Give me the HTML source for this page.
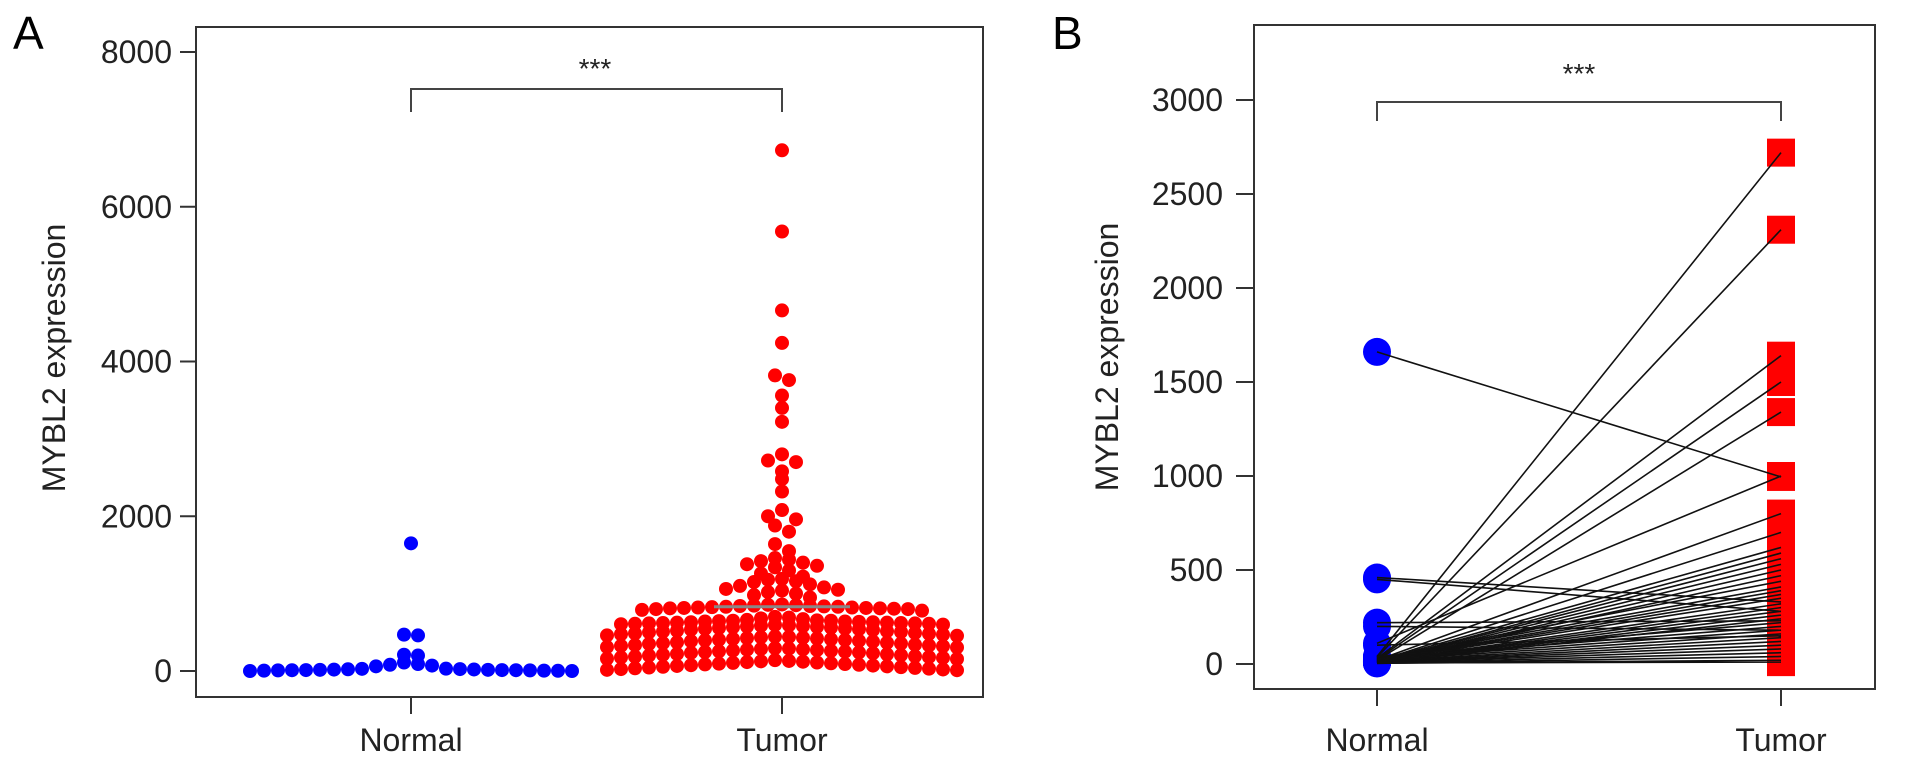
<!DOCTYPE html>
<html><head><meta charset="utf-8"><style>
html,body{margin:0;padding:0;background:#fff;}
svg{display:block;font-family:"Liberation Sans",Arial,sans-serif;}
</style></head><body>
<svg id="fig" width="1913" height="761" viewBox="0 0 1913 761">
<g id="pa"></g>
<g id="pb"></g>
</svg>
<script>
// ---- Panel A data ----
const aCategories = ["Normal","Tumor"];
const aTicks = [0,2000,4000,6000,8000];
const aNormal = [0,5,8,10,12,15,18,20,22,25,28,30,10,5,8,12,15,0,3,60,70,80,110,90,200,210,460,470,1650];
const aTumor = [
10,20,30,40,50,60,70,80,90,100,110,120,130,140,15,25,35,45,55,65,75,85,95,105,115,125,
155,160,170,175,185,190,200,205,215,220,230,235,245,250,255,260,265,270,275,280,285,290,295,180,210,240,
305,310,320,325,335,340,350,355,365,370,380,385,395,400,405,410,415,420,425,430,435,440,445,330,360,390,
455,460,470,475,485,490,500,505,515,520,530,535,545,550,555,560,565,570,575,580,585,590,595,480,510,540,
600,605,610,615,620,625,630,635,640,645,650,655,610,615,620,625,630,640,650,660,670,680,690,700,
780,790,800,810,815,820,825,830,835,840,845,850,855,800,805,810,815,820,830,840,860,
950,980,1000,1020,1040,1050,
1060,1080,1100,1120,1150,1160,1180,1190,
1220,1260,1300,1340,
1360,1380,1400,1420,1440,1460,
1550,1640,1800,1880,1960,2000,2080,2320,2480,2580,2700,2720,2800,3220,3400,3560,3760,3820,4240,4660,5680,6730];
const aTumorMean = 830;
// ---- Panel B data ----
const bCategories = ["Normal","Tumor"];
const bTicks = [0,500,1000,1500,2000,2500,3000];
const bNormal = [1660,460,450,220,200,110,100,40,35,30,25,20,20,15,15,10,10,8,5,5,30,25,20,18,15,12,10,8,6,5,40,30,25,20,15,12,10,8,5,3,4,6];
const bTumor  = [995,330,280,230,180,1000,150,2720,2310,1640,1500,1340,800,700,620,590,560,530,500,470,440,410,390,370,350,320,300,280,260,240,220,200,180,160,140,120,100,80,60,40,20,10];

const NS="http://www.w3.org/2000/svg";
function mk(parent,tag,attrs,text){const e=document.createElementNS(NS,tag);for(const k in attrs)e.setAttribute(k,attrs[k]);if(text!==undefined)e.textContent=text;parent.appendChild(e);return e;}

// ===== Panel A =====
(function(){
const g=document.getElementById('pa');
const L=196,T=27,R=983,B=697;
const y=v=>671-(v/8000)*(671-52);
const xc=[411,782];
let e;
e=mk(g,'text',{x:13,y:49,'font-size':46});e.textContent='A';


e=mk(g,'rect',{x:L,y:T,width:R-L,height:B-T,fill:'none',stroke:'#333','stroke-width':2});


aTicks.forEach(t=>{
 e=mk(g,'line',{x1:180,x2:L,y1:y(t),y2:y(t),stroke:'#333','stroke-width':2});
 
 
 e=mk(g,'text',{x:172,y:y(t)+11,'text-anchor':'end','font-size':32,fill:'#222'},String(t));
 
 
});
aCategories.forEach((c,i)=>{
 e=mk(g,'line',{x1:xc[i],x2:xc[i],y1:B,y2:714,stroke:'#333','stroke-width':2});
 
 
 e=mk(g,'text',{x:xc[i],y:751,'text-anchor':'middle','font-size':32,fill:'#222'},c);
 
 
});
e=mk(g,'text',{x:0,y:0,'text-anchor':'middle','font-size':32,fill:'#222',transform:'translate(65,358) rotate(-90)'},'MYBL2 expression');


e=mk(g,'path',{d:`M${xc[0]},112 V89 H${xc[1]} V112`,fill:'none',stroke:'#444','stroke-width':2});


e=mk(g,'text',{x:595,y:78,'text-anchor':'middle','font-size':28,fill:'#222'},'***');


function swarm(vals,cx,color,name,bin){
 const groups={};
 vals.forEach(v=>{const k=Math.floor(v/bin);(groups[k]=groups[k]||[]).push(v);});
 Object.keys(groups).forEach(k=>{
  const arr=groups[k].slice().sort((a,b)=>b-a);
  const n=arr.length;
  // order positions from center outwards
  const pos=[];for(let j=0;j<n;j++)pos.push((j-(n-1)/2)*14);
  pos.sort((a,b)=>Math.abs(a)-Math.abs(b));
  arr.forEach((v,j)=>{
   const c=mk(g,'circle',{cx:cx+pos[j],cy:y(v),r:7,fill:color});
   
   
  });
 });
}
swarm(aNormal,xc[0],'#0000ff','normal-point',150);
swarm(aTumor,xc[1],'#ff0000','tumor-point',150);
e=mk(g,'line',{x1:xc[1]-68,x2:xc[1]+68,y1:y(aTumorMean),y2:y(aTumorMean),stroke:'#888','stroke-width':3});


})();

// ===== Panel B =====
(function(){
const g=document.getElementById('pb');
const L=1254,T=25,R=1875,B=689;
const y=v=>664-(v/3000)*(664-100);
const xc=[1377,1781];
let e;
e=mk(g,'text',{x:1052,y:49,'font-size':46});e.textContent='B';


e=mk(g,'rect',{x:L,y:T,width:R-L,height:B-T,fill:'none',stroke:'#333','stroke-width':2});


bTicks.forEach(t=>{
 e=mk(g,'line',{x1:1236,x2:L,y1:y(t),y2:y(t),stroke:'#333','stroke-width':2});
 
 
 e=mk(g,'text',{x:1223,y:y(t)+11,'text-anchor':'end','font-size':32,fill:'#222'},String(t));
 
 
});
bCategories.forEach((c,i)=>{
 e=mk(g,'line',{x1:xc[i],x2:xc[i],y1:B,y2:706,stroke:'#333','stroke-width':2});
 
 
 e=mk(g,'text',{x:xc[i],y:751,'text-anchor':'middle','font-size':32,fill:'#222'},c);
 
 
});
e=mk(g,'text',{x:0,y:0,'text-anchor':'middle','font-size':32,fill:'#222',transform:'translate(1118,357) rotate(-90)'},'MYBL2 expression');


e=mk(g,'path',{d:`M${xc[0]},121 V102 H${xc[1]} V121`,fill:'none',stroke:'#444','stroke-width':2});


e=mk(g,'text',{x:1579,y:83,'text-anchor':'middle','font-size':28,fill:'#222'},'***');


bNormal.forEach(v=>{
 const c=mk(g,'circle',{cx:xc[0],cy:y(v),r:14,fill:'#0000ff'});
 
 
});
bTumor.forEach(v=>{
 const s=mk(g,'rect',{x:xc[1]-14,y:y(v)-14,width:28,height:28,fill:'#ff0000'});
 
 
});
bNormal.forEach((v,i)=>{
 const l=mk(g,'line',{x1:xc[0],y1:y(v),x2:xc[1],y2:y(bTumor[i]),stroke:'#111','stroke-width':1.6});
 
 
});
})();
</script>
</body></html>
